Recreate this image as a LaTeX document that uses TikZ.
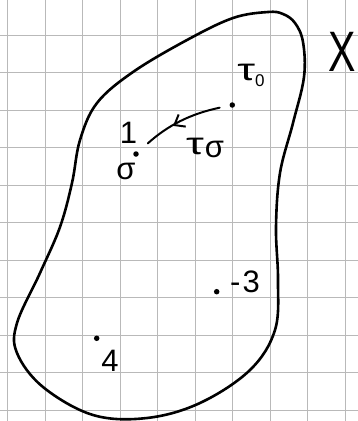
\documentclass[tikz,border=0pt]{standalone}
\usepackage{fontspec}
\setmainfont{Liberation Sans}
\usetikzlibrary{arrows.meta,decorations.markings}
\newcommand{\widetau}{\scalebox{1.45}[1]{τ}}
\begin{document}
\begin{tikzpicture}[x=1pt,y=-1pt,
  gridline/.style={draw=gray!55,line width=1pt},
  blob/.style={draw=black,line width=2.6pt,line join=round},
  pt/.style={circle,fill=black,inner sep=0pt,minimum size=5.5pt},
  lbl/.style={inner sep=0pt,font=\fontsize{31}{31}\selectfont},
  conn/.style={line width=2pt,line cap=round},
]
\useasboundingbox (0,0) rectangle (358,421);
\fill[white] (0,0) rectangle (358,421);
\foreach \x in {7.5,45,...,345} \draw[gridline] (\x,0) -- (\x,421);
\foreach \y in {35,72.5,...,410} \draw[gridline] (0,\y) -- (358,\y);
% region X
\draw[blob] plot[smooth cycle, tension=0.6] coordinates {
 (268,12) (233,18) (187,40) (133,72) (97,103) (80,140) (72,183) (60,227)
 (40,273) (17,323) (17,353) (43,387) (93,415) (147,418) (200,403) (250,370)
 (275,330) (278,280) (276,227) (280,173) (293,123) (304,77) (303,42) (295,23) (283,14)};
\node[inner sep=0pt,font=\fontsize{57}{57}\selectfont] (X) at (342,52) {\scalebox{0.72}[1]{X}};
% points
\node[pt] (t0) at (232.3,105) {};
\node[pt] (s) at (136,154) {};
\node[pt] (m3) at (216.7,291.7) {};
\node[pt] (p4) at (96.7,338.3) {};
% labels
\node[lbl] (lt0) at (251,75) {\widetau\raisebox{-6pt}{\fontsize{17}{17}\selectfont 0}};
\node[lbl] (l1) at (128.5,132.5) {1};
\node[lbl] (ls) at (126,171) {σ};
\node[lbl] (lts) at (205,148) {\widetau\kern1pt\raisebox{-3pt}{σ}};
\node[lbl] (lm3) at (245,282) {-\kern2pt 3};
\node[lbl] (l4) at (110,361) {4};
% path tau_sigma
\draw[conn, shorten <=10pt, shorten >=13pt,
  postaction={decorate},
  decoration={markings, mark=at position 0.58 with {\arrow{Straight Barb[length=9pt,width=14pt,line width=2pt]}}}]
  (t0) to[bend right=15] (s);
\end{tikzpicture}
\end{document}
